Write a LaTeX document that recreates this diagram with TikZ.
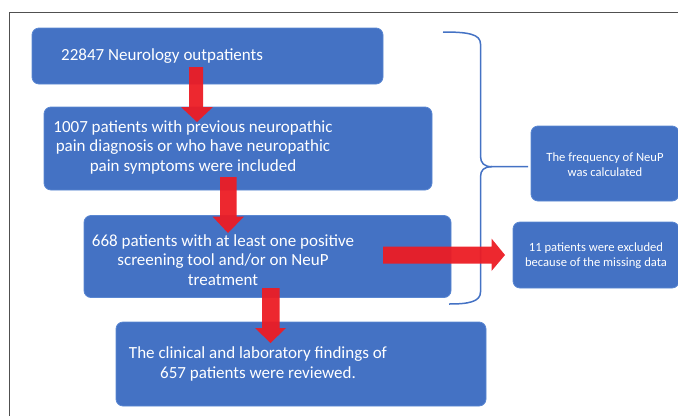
\documentclass[tikz,border=0pt]{standalone}
\usepackage{fontspec}
\setmainfont{Carlito}
\definecolor{boxblue}{RGB}{68,114,196}
\definecolor{boxedge}{RGB}{90,135,210}
\definecolor{arrred}{RGB}{236,28,36}
\definecolor{framegray}{RGB}{80,80,80}
\begin{document}
\begin{tikzpicture}[x=1pt,y=-1pt,
  bluebox/.style={draw=boxedge,line width=0.8pt,fill=boxblue,rounded corners=7pt,inner sep=0pt},
  bigtext/.style={text=white,font=\fontsize{17}{19.5}\selectfont,align=center,inner sep=0pt},
  smalltext/.style={text=white,font=\fontsize{12.6}{15}\selectfont,align=center,inner sep=0pt},
  redarrow/.style={fill=arrred,draw=none,opacity=0.95},
  bracestyle/.style={draw=boxblue,line width=1.5pt}]
\useasboundingbox (0,0) rectangle (678,416);
% frame
\draw[framegray,line width=1pt] (9.5,416) -- (9.5,12) -- (678,12);
% boxes
\node[bluebox,minimum width=351pt,minimum height=56pt] (b1) at (207.5,56) {};
\node[bluebox,minimum width=388pt,minimum height=83pt] (b2) at (238,148.5) {};
\node[bluebox,minimum width=367pt,minimum height=82pt] (b3) at (267.5,256.5) {};
\node[bluebox,minimum width=370pt,minimum height=84pt] (b4) at (301,364) {};
\node[bluebox,minimum width=148pt,minimum height=75pt] (bA) at (605,163.5) {};
\node[bluebox,minimum width=166pt,minimum height=66pt] (bB) at (596,255) {};
% texts
\node[bigtext,anchor=west] (t1) at (61,56) {22847 Neurology outpatients};
\node[bigtext] (t2) at (193,147) {1007 patients with previous neuropathic\\pain diagnosis or who have neuropathic\\pain symptoms were included};
\node[bigtext] (t3) at (223,260) {668 patients with at least one positive\\screening tool and/or on NeuP\\treatment};
\node[bigtext] (t4) at (258,364) {The clinical and laboratory findings of\\657 patients were reviewed.};
\node[smalltext] (tA) at (605,165) {The frequency of NeuP\\was calculated};
\node[smalltext] (tB) at (596,256) {11 patients were excluded\\because of the missing data};
% brace
\coordinate (brtip) at (528,166.7);
\draw[bracestyle] (443,32) .. controls (468,32) and (480.5,34) .. (480.5,44)
  -- (480.5,156) .. controls (480.5,163) and (484,166.7) .. (492,166.7) -- (brtip);
\draw[bracestyle] (492,166.7) .. controls (484,166.7) and (480.5,170) .. (480.5,177)
  -- (480.5,292) .. controls (480.5,302) and (468,304) .. (449,304);
% red block arrows
\fill[redarrow] (189,67) -- (203,67) -- (203,107) -- (213,107) -- (197,122) -- (181,107) -- (189,107) -- cycle;
\fill[redarrow] (220,177) -- (236.5,177) -- (236.5,216.5) -- (244,216.5) -- (228,233) -- (212.5,216.5) -- (220,216.5) -- cycle;
\fill[redarrow] (262,288) -- (279.5,288) -- (279.5,328) -- (286,328) -- (270.5,343) -- (255,328) -- (262,328) -- cycle;
\fill[redarrow] (383,246.5) -- (491.5,246.5) -- (491.5,238.5) -- (505,255) -- (491.5,271) -- (491.5,263.5) -- (383,263.5) -- cycle;
\end{tikzpicture}
\end{document}
